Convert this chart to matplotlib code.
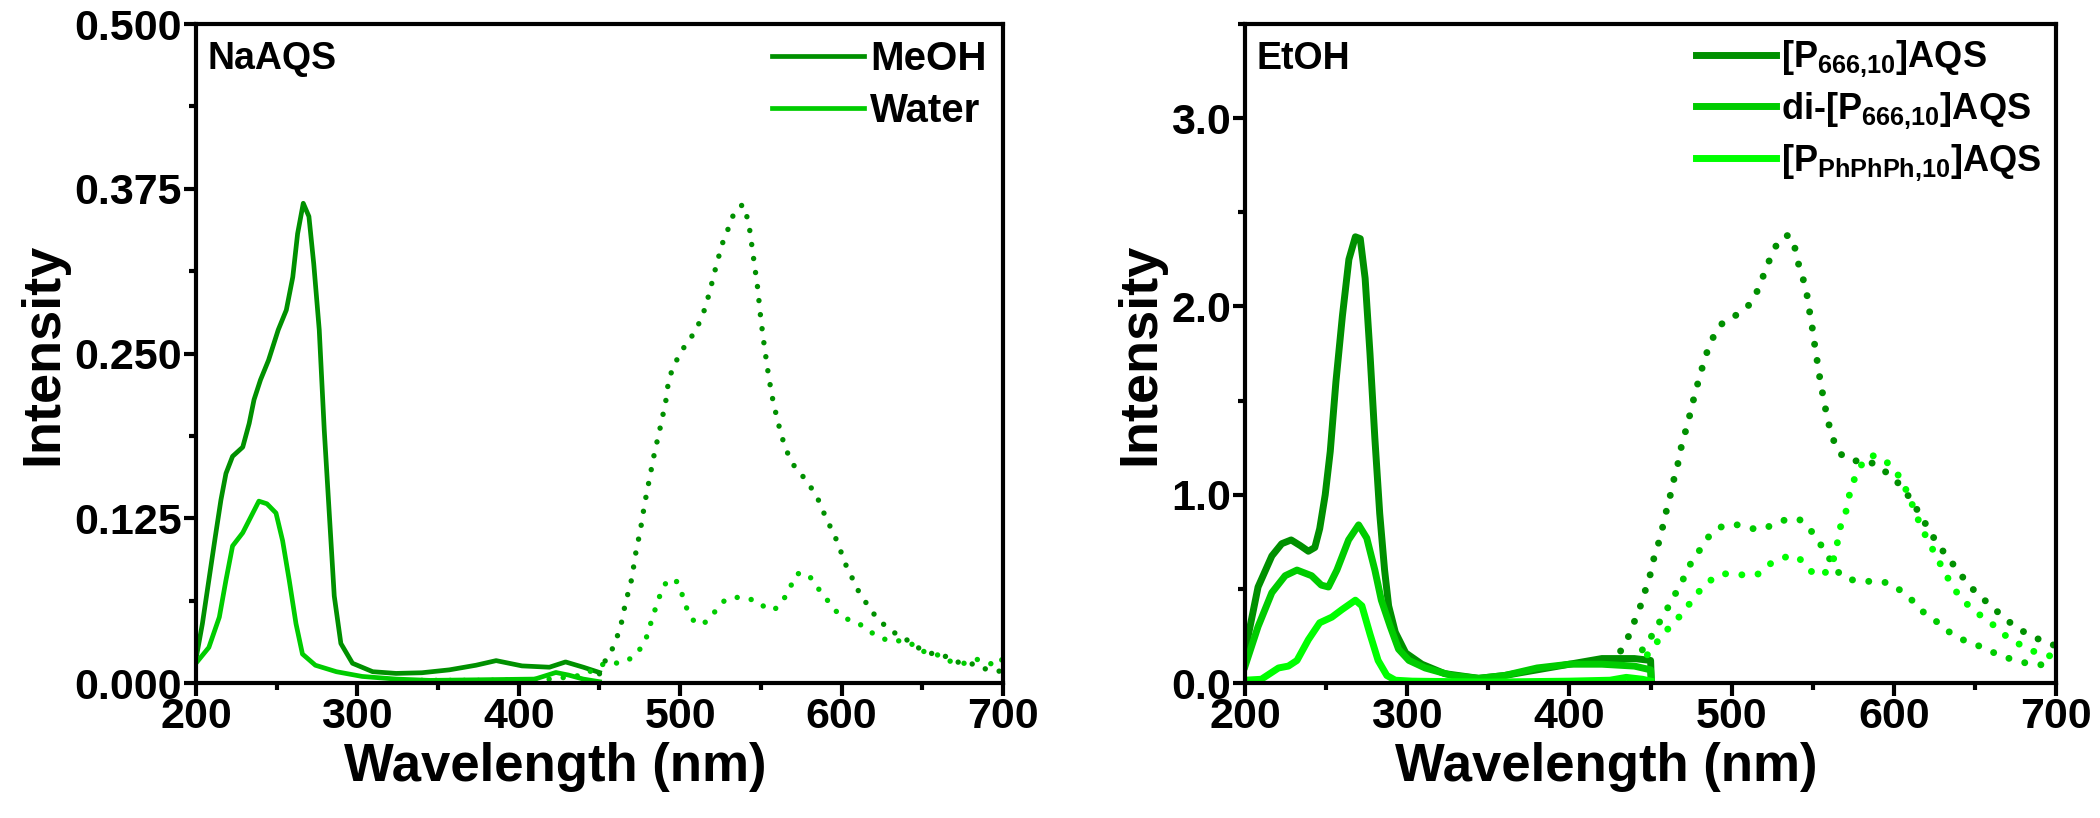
import numpy as np
import matplotlib.pyplot as plt
from matplotlib.ticker import MultipleLocator, FormatStrFormatter

plt.rcParams['font.family'] = ['Liberation Sans', 'DejaVu Sans']
plt.rcParams['font.weight'] = 'bold'
plt.rcParams['axes.labelweight'] = 'bold'
plt.rcParams['mathtext.fontset'] = 'custom'
plt.rcParams['mathtext.rm'] = 'Liberation Sans:bold'
plt.rcParams['mathtext.it'] = 'Liberation Sans:bold'
plt.rcParams['mathtext.bf'] = 'Liberation Sans:bold'

# ---- NaAQS: absorption (solid) ----
meoh_abs_x = [200, 204, 208, 212, 215.5, 218.6, 222.7, 229, 233, 236, 240, 245, 251, 256, 260, 263, 266.5,
              270, 273, 276.4, 279.5, 282.6, 285.7, 289.8, 297, 309.5, 324, 340, 357, 373.5, 386,
              402, 419, 429, 440, 450]
meoh_abs_y = [0.018, 0.045, 0.078, 0.111, 0.139, 0.159, 0.172, 0.179, 0.197, 0.215, 0.230, 0.245, 0.268,
              0.283, 0.308, 0.341, 0.364, 0.354, 0.318, 0.268, 0.192, 0.129, 0.066, 0.030, 0.015, 0.0086,
              0.0073, 0.0078, 0.010, 0.0135, 0.017, 0.013, 0.012, 0.016, 0.012, 0.008]
water_abs_x = [200, 208, 214.5, 218.6, 222.7, 229, 234, 239, 244, 249.6, 253.7, 257.8, 262, 266, 274,
               287, 303, 324, 345, 410, 423, 431, 440, 450]
water_abs_y = [0.015, 0.027, 0.050, 0.078, 0.104, 0.114, 0.126, 0.138, 0.136, 0.129, 0.108, 0.078, 0.045,
               0.022, 0.0135, 0.0086, 0.005, 0.003, 0.002, 0.003, 0.008, 0.006, 0.003, 0.001]

# ---- NaAQS: emission (dotted) ----
meoh_em_x = [450, 452, 457, 460, 463, 466, 470, 472.4, 475.5, 478, 481, 484, 487.5, 491, 493, 496, 499,
             502, 506, 510, 513, 516, 518, 520, 522, 524, 526, 529, 531.5, 534, 538.7, 541.6, 543.2,
             545.3, 548, 550, 552, 554.2, 556.7, 558.3, 560.2, 562.3, 564.5, 567.4, 571, 577.3, 581.8,
             585.6, 588.7, 592, 595, 598, 600.7, 603.5, 607.3, 610.4, 614, 618, 622, 627.5, 633, 638,
             643.4, 648.6, 654.3, 660, 665.5, 671.3, 683.7, 690.3, 697.7, 700]
meoh_em_y = [0.007, 0.014, 0.023, 0.032, 0.042, 0.060, 0.079, 0.098, 0.117, 0.136, 0.155, 0.174, 0.193,
             0.213, 0.231, 0.240, 0.248, 0.254, 0.261, 0.268, 0.277, 0.286, 0.296, 0.305, 0.315, 0.324,
             0.333, 0.342, 0.351, 0.358, 0.363, 0.353, 0.343, 0.324, 0.300, 0.276, 0.257, 0.238, 0.219,
             0.210, 0.200, 0.190, 0.181, 0.172, 0.164, 0.155, 0.147, 0.139, 0.130, 0.121, 0.114, 0.105,
             0.096, 0.087, 0.078, 0.070, 0.063, 0.056, 0.049, 0.043, 0.038, 0.035, 0.030, 0.026, 0.023,
             0.021, 0.020, 0.016, 0.014, 0.010, 0.009, 0.009]
water_em_x = [340, 380, 420, 440, 453.4, 459.6, 465.8, 471, 476, 479.6, 481.7, 484, 486.5, 489, 493, 497.8,
              501, 504, 507.7, 513.3, 518.5, 522.6, 527.8, 535, 542, 548.4, 553.6, 558.7, 563.5, 567,
              572.5, 578.7, 583.5, 587, 591.8, 597, 602, 608, 613.4, 619, 624.8, 630, 636.6, 642, 648,
              653.7, 660.5, 666, 672.3, 677.8, 683.7, 689.5, 694, 699, 700]
water_em_y = [0.002, 0.002, 0.003, 0.006, 0.015, 0.015, 0.016, 0.020, 0.027, 0.036, 0.045, 0.054, 0.063,
              0.072, 0.079, 0.077, 0.068, 0.057, 0.048, 0.044, 0.049, 0.056, 0.063, 0.065, 0.064, 0.062,
              0.056, 0.056, 0.062, 0.070, 0.083, 0.083, 0.076, 0.069, 0.062, 0.054, 0.049, 0.047, 0.043,
              0.038, 0.034, 0.032, 0.032, 0.031, 0.025, 0.023, 0.021, 0.017, 0.015, 0.015, 0.018, 0.016,
              0.014, 0.015, 0.026]

# ---- EtOH: absorption (solid) ----
p666_abs_x = [200, 208, 216.5, 222.6, 228.4, 234, 239, 243, 246, 249.4, 252.5, 256, 260, 264, 268, 271,
              274, 277, 280, 283, 286, 288.5, 292.6, 299, 309, 323, 344, 360, 380, 400, 420, 440, 450, 450.5]
p666_abs_y = [0.17, 0.51, 0.675, 0.74, 0.76, 0.73, 0.70, 0.72, 0.82, 1.0, 1.23, 1.6, 1.95, 2.25, 2.37,
              2.36, 2.15, 1.75, 1.3, 0.9, 0.6, 0.41, 0.27, 0.16, 0.10, 0.05, 0.025, 0.04, 0.07, 0.10,
              0.13, 0.13, 0.12, 0.0]
di_abs_x = [200, 208, 216.5, 224.7, 232, 241, 247, 251.4, 256.6, 263.8, 270, 275, 280, 284, 289.5, 294.6,
            301, 311, 327.6, 344, 360, 380, 400, 420, 440, 450, 450.5]
di_abs_y = [0.09, 0.30, 0.48, 0.57, 0.60, 0.57, 0.52, 0.51, 0.60, 0.76, 0.84, 0.77, 0.60, 0.44, 0.30,
            0.18, 0.12, 0.08, 0.04, 0.025, 0.04, 0.08, 0.10, 0.10, 0.09, 0.07, 0.0]
ph_abs_x = [200, 210, 220.6, 226.7, 232, 239, 246, 253.5, 259.7, 268, 272, 277, 282, 287.4, 292.6, 303,
            350, 400, 425, 435, 445, 450]
ph_abs_y = [0.015, 0.02, 0.08, 0.09, 0.12, 0.23, 0.32, 0.35, 0.39, 0.44, 0.41, 0.26, 0.12, 0.04, 0.015,
            0.01, 0.005, 0.01, 0.015, 0.03, 0.02, 0.01]

# ---- EtOH: emission (dotted) ----
p666_em_x = [431.5, 436, 439.7, 443.4, 446.3, 449.6, 451.6, 454.5, 457.2, 459.3, 461.7, 464, 466.5, 468.5,
             471, 473.5, 476, 478.4, 481, 484, 487.7, 491, 495.3, 502, 509, 514.2, 518, 521.6, 525.3,
             529.8, 535.3, 540, 541.5, 545, 546.9, 548.4, 550, 551.4, 552.9, 554.5, 556.2, 558.2, 560.3,
             563.2, 566.5, 573.5, 582.3, 589.5, 596.5, 602.9, 608.4, 613.6, 617.9, 622.4, 627, 632,
             639.3, 646, 652.3, 658.4, 665, 671.8, 678.4, 685, 692.4, 699, 700]
p666_em_y = [0.17, 0.24, 0.32, 0.40, 0.48, 0.57, 0.65, 0.73, 0.82, 0.90, 0.98, 1.07, 1.15, 1.24, 1.32,
             1.40, 1.49, 1.57, 1.65, 1.74, 1.82, 1.88, 1.92, 1.95, 1.99, 2.05, 2.13, 2.21, 2.29, 2.36,
             2.38, 2.29, 2.21, 2.12, 2.04, 1.95, 1.87, 1.78, 1.70, 1.61, 1.53, 1.44, 1.36, 1.28, 1.22,
             1.18, 1.18, 1.16, 1.11, 1.06, 1.00, 0.93, 0.87, 0.80, 0.74, 0.68, 0.60, 0.52, 0.47, 0.42,
             0.37, 0.32, 0.28, 0.25, 0.22, 0.20, 0.19]
di_em_x = [444.9, 450, 454.5, 458.8, 463, 467, 471.2, 475, 479.8, 485, 491, 496.7, 504.5, 512.8, 520.4,
           527, 534.4, 541.6, 548, 552.9, 557.6, 561.7, 567.3, 572.4, 581.7, 590.3, 597.7, 604.3, 611.1,
           617.7, 624.5, 631, 637.7, 645, 654.7, 661.9, 669, 676.3, 683.5, 690.7, 699, 700]
di_em_y = [0.176, 0.24, 0.31, 0.37, 0.44, 0.50, 0.57, 0.64, 0.70, 0.77, 0.82, 0.84, 0.84, 0.82, 0.82,
           0.85, 0.87, 0.87, 0.82, 0.76, 0.70, 0.64, 0.57, 0.55, 0.54, 0.54, 0.53, 0.49, 0.44, 0.38,
           0.34, 0.29, 0.25, 0.22, 0.19, 0.16, 0.135, 0.12, 0.10, 0.097, 0.088, 0.087]
ph_em_x = [448, 453.7, 459.9, 466.5, 472.2, 478.2, 484.4, 491.2, 493.6, 502.5, 509.7, 516.9, 523, 530.2,
           537, 543.6, 549.4, 556, 562, 564.8, 567.3, 570.8, 572.8, 575.9, 579.2, 585, 592, 598.6,
           603.9, 608.4, 612.6, 615.8, 619.1, 623.3, 627.4, 631.5, 634.8, 638.9, 645, 651.6, 658.4,
           665, 671.8, 678.8, 685.6, 692.4, 699, 700]
ph_em_y = [0.15, 0.215, 0.28, 0.34, 0.40, 0.47, 0.53, 0.57, 0.58, 0.58, 0.57, 0.58, 0.63, 0.66, 0.68,
           0.65, 0.59, 0.57, 0.63, 0.73, 0.84, 0.92, 1.01, 1.09, 1.15, 1.21, 1.20, 1.15, 1.09, 1.01,
           0.92, 0.85, 0.79, 0.72, 0.65, 0.59, 0.53, 0.48, 0.42, 0.37, 0.33, 0.28, 0.23, 0.20, 0.17,
           0.15, 0.14, 0.135]

dark = '#009000'
mid = '#00cc00'
bright = '#00ff00'

fig = plt.figure(figsize=(21, 8.18), dpi=100)
ax1 = fig.add_axes([0.0933, 0.165, 0.3843, 0.8056])
ax2 = fig.add_axes([0.5929, 0.165, 0.3862, 0.8056])


def style_axes(ax):
    for s in ax.spines.values():
        s.set_linewidth(3)
    ax.tick_params(which='major', direction='out', length=9, width=3, labelsize=31, pad=1)
    ax.tick_params(axis='x', which='major', pad=1)
    ax.tick_params(which='minor', direction='out', length=5, width=3)
    ax.set_xlim(200, 700)
    ax.xaxis.set_major_locator(MultipleLocator(100))
    ax.xaxis.set_minor_locator(MultipleLocator(50))
    ax.set_xlabel('Wavelength (nm)', fontsize=38)
    ax.set_ylabel('Intensity', fontsize=39, labelpad=4)
    ax.xaxis.set_label_coords(0.445, -0.09)


dots_l = (0, (0.01, 2.6))
dots_r = (0, (0.01, 2.35))

# left panel
ax1.plot(meoh_abs_x, meoh_abs_y, color=dark, lw=3.4, label='MeOH')
ax1.plot(water_abs_x, water_abs_y, color=mid, lw=3.4, label='Water')
ax1.plot(water_em_x, water_em_y, color=mid, lw=3.9, linestyle=dots_l, dash_capstyle='round')
ax1.plot(meoh_em_x, meoh_em_y, color=dark, lw=3.9, linestyle=dots_l, dash_capstyle='round')
style_axes(ax1)
ax1.set_ylim(0, 0.5)
ax1.yaxis.set_major_locator(MultipleLocator(0.125))
ax1.yaxis.set_minor_locator(MultipleLocator(0.0625))
ax1.yaxis.set_major_formatter(FormatStrFormatter('%.3f'))
ax1.text(0.014, 0.975, 'NaAQS', transform=ax1.transAxes, ha='left', va='top', fontsize=27)
ax1.legend(loc='upper right', frameon=False, fontsize=29, handlelength=2.3, handletextpad=0.15,
           labelspacing=0.35, borderaxespad=0.1, borderpad=0.3)

# right panel
ax2.plot(p666_abs_x, p666_abs_y, color=dark, lw=5, label='[P$_{666{,}10}$]AQS')
ax2.plot(di_abs_x, di_abs_y, color=mid, lw=5, label='di-[P$_{666{,}10}$]AQS')
ax2.plot(ph_abs_x, ph_abs_y, color=bright, lw=5, label='[P$_{\\mathrm{PhPhPh}{,}10}$]AQS')
ax2.plot(p666_em_x, p666_em_y, color=dark, lw=5, linestyle=dots_r, dash_capstyle='round')
ax2.plot(di_em_x, di_em_y, color=mid, lw=5, linestyle=dots_r, dash_capstyle='round')
ax2.plot(ph_em_x, ph_em_y, color=bright, lw=5, linestyle=dots_r, dash_capstyle='round')
style_axes(ax2)
ax2.set_ylim(0, 3.5)
ax2.yaxis.set_major_locator(MultipleLocator(1.0))
ax2.yaxis.set_minor_locator(MultipleLocator(0.5))
ax2.yaxis.set_major_formatter(FormatStrFormatter('%.1f'))
ax2.text(0.014, 0.975, 'EtOH', transform=ax2.transAxes, ha='left', va='top', fontsize=27)
ax2.legend(loc='upper right', frameon=False, fontsize=26, handlelength=2.2, handletextpad=0.15,
           labelspacing=0.3, borderaxespad=0.1, borderpad=0.3)

fig.savefig('out.png', dpi=100)
